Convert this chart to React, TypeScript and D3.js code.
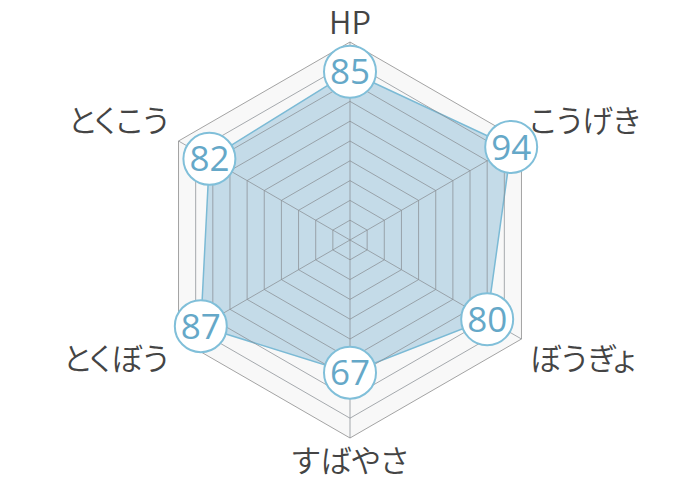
import React, {useEffect, useRef} from 'react';
import * as d3 from 'd3';

const categories = ['HP', 'こうげき', 'ぼうぎょ', 'すばやさ', 'とくぼう', 'とくこう'];
const values = [85, 94, 80, 67, 87, 82];
const levels = [10, 20, 30, 40, 50, 60, 70, 80, 90, 100];

const RadarChart = () => {
  const svgRef = useRef<SVGSVGElement>(null);

  useEffect(() => {
    const width = 700;
    const height = 480;
    const cx = 350;
    const cy = 240;
    const radius = 198;

    const svg = d3.select(svgRef.current);
    svg.selectAll('*').remove();

    const r = d3.scaleLinear().domain([0, 100]).range([0, radius]);
    const angle = d3.scaleLinear()
      .domain([0, categories.length])
      .range([0, 2 * Math.PI]);

    const g = svg.append('g').attr('transform', `translate(${cx},${cy})`);

    const ring = (v: number) => d3.lineRadial<number>()
      .angle((_, i) => angle(i))
      .radius(() => r(v))
      .curve(d3.curveLinearClosed)(categories.map(() => v)) as string;

    // background
    g.append('path')
      .attr('d', ring(100))
      .attr('fill', '#f8f8f8')
      .attr('stroke', 'none');

    // data area
    const area = d3.lineRadial<number>()
      .angle((_, i) => angle(i))
      .radius(d => r(d))
      .curve(d3.curveLinearClosed);

    g.append('path')
      .attr('d', area(values) as string)
      .attr('fill', 'rgba(110,170,205,0.38)')
      .attr('stroke', '#7bbad5')
      .attr('stroke-width', 1.5);

    // grid rings
    g.selectAll('path.ring')
      .data(levels)
      .join('path')
      .attr('class', 'ring')
      .attr('d', d => ring(d))
      .attr('fill', 'none')
      .attr('stroke', d => d === 100 ? '#999' : '#8a8f94')
      .attr('stroke-opacity', d => d === 100 ? 0.9 : 0.75)
      .attr('stroke-width', 1);

    // spokes
    g.selectAll('line.spoke')
      .data(categories)
      .join('line')
      .attr('class', 'spoke')
      .attr('x1', 0)
      .attr('y1', 0)
      .attr('x2', (_, i) => Math.sin(angle(i)) * r(100))
      .attr('y2', (_, i) => -Math.cos(angle(i)) * r(100))
      .attr('stroke', '#8a8f94')
      .attr('stroke-opacity', 0.75)
      .attr('stroke-width', 1);

    // category labels
    g.selectAll('text.label')
      .data(categories)
      .join('text')
      .attr('class', 'label')
      .attr('x', (_, i) => {
        const s = Math.sin(angle(i));
        return Math.abs(s) < 0.01 ? 0 : s * r(100) + (s > 0 ? 8 : -10);
      })
      .attr('y', (_, i) => {
        const c = -Math.cos(angle(i));
        if (Math.abs(Math.sin(angle(i))) < 0.01) return c < 0 ? -r(100) - 8 : r(100) + 34;
        return c * r(100) + (c < 0 ? -9 : 31);
      })
      .attr('text-anchor', (_, i) => {
        const s = Math.sin(angle(i));
        return Math.abs(s) < 0.01 ? 'middle' : s > 0 ? 'start' : 'end';
      })
      .attr('font-family', '"Noto Sans CJK JP", "Noto Sans", sans-serif')
      .attr('font-weight', 350)
      .attr('font-size', 31)
      .style('font-feature-settings', '"palt"')
      .attr('fill', '#444')
      .text(d => d);

    // value bubbles
    const bubbles = g.selectAll('g.bubble')
      .data(values)
      .join('g')
      .attr('class', 'bubble')
      .attr('transform', (d, i) => `translate(${Math.sin(angle(i)) * r(d)},${-Math.cos(angle(i)) * r(d)})`);

    bubbles.append('circle')
      .attr('r', 26)
      .attr('fill', '#fff')
      .attr('stroke', '#80bfd9')
      .attr('stroke-width', 2);

    bubbles.append('text')
      .attr('text-anchor', 'middle')
      .attr('dy', '0.36em')
      .attr('font-family', '"Open Sans", "Noto Sans", sans-serif')
      .attr('font-weight', 400)
      .attr('font-size', 35)
      .attr('fill', '#65a8c8')
      .text(d => d);

    svg.attr('viewBox', `0,0,${width},${height}`);
  }, []);

  return (
    <svg
      ref={svgRef}
      width={700}
      height={480}
      style={{position: 'absolute', left: 0, top: 0, background: '#fff'}}
    />
  );
};

export default function App() {
  return <RadarChart />;
}
